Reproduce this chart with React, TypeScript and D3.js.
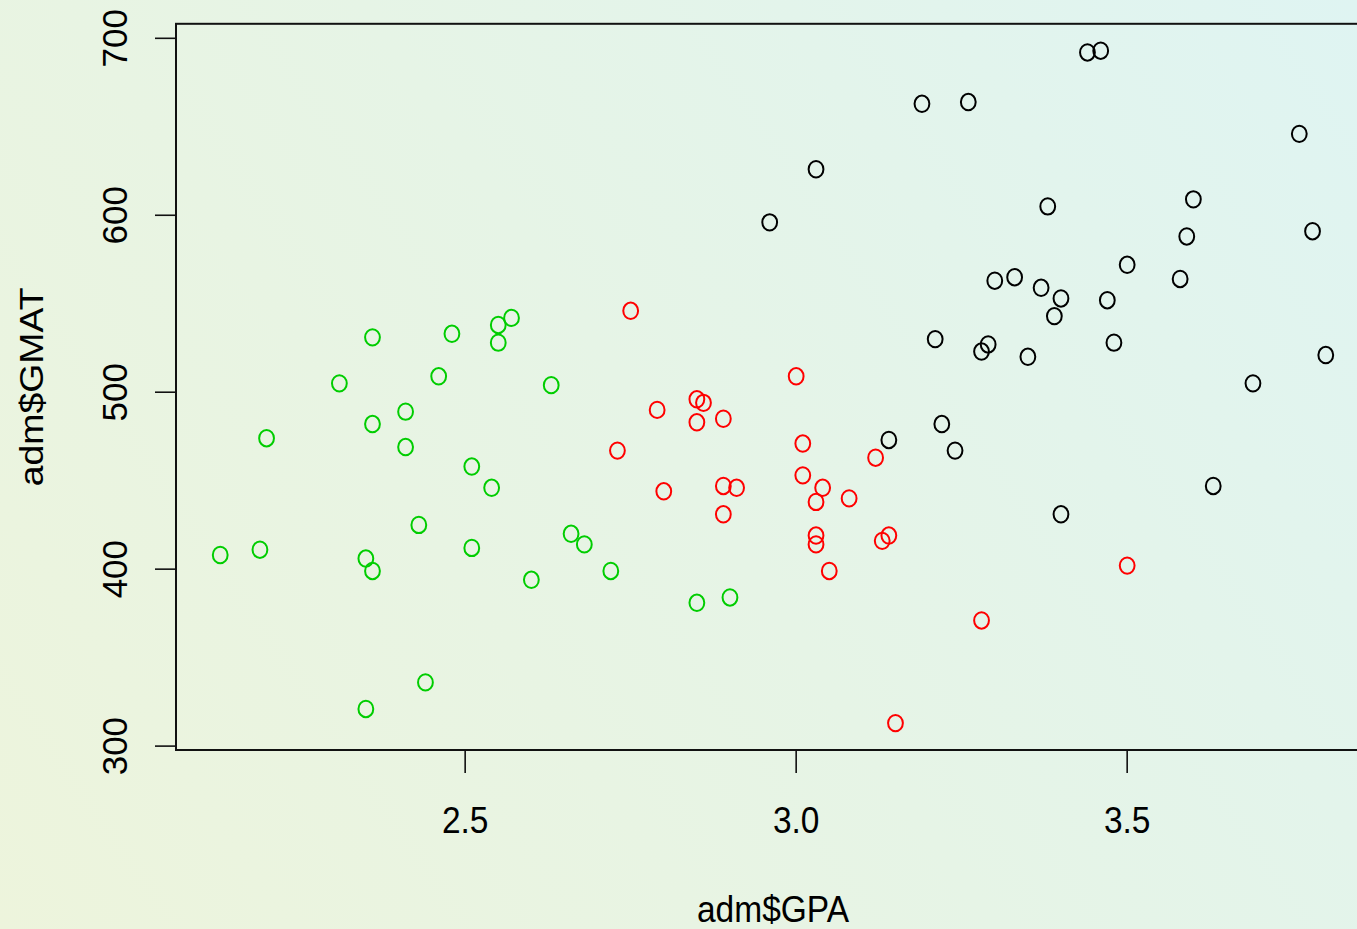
import React from "react";
import * as d3 from "d3";

// ---- data ----
const greenGPA = [2.13, 2.19, 2.2, 2.31, 2.36, 2.36, 2.35, 2.36, 2.35, 2.41, 2.41, 2.43, 2.44, 2.46, 2.48, 2.51, 2.51, 2.54, 2.55, 2.55, 2.57, 2.6, 2.63, 2.66, 2.68, 2.72, 2.85, 2.9];
const greenGMAT = [408, 411, 474, 505, 531, 482, 406, 399, 321, 489, 469, 425, 336, 509, 533, 458, 412, 446, 538, 528, 542, 394, 504, 420, 414, 399, 381, 384];

const redGPA = [2.75, 3.0, 2.79, 2.85, 2.86, 2.85, 2.89, 2.73, 3.01, 3.12, 2.8, 2.89, 2.91, 3.01, 3.04, 3.03, 3.08, 2.89, 3.03, 3.03, 3.14, 3.13, 3.05, 3.5, 3.28, 3.15];
const redGMAT = [546, 509, 490, 496, 494, 483, 485, 467, 471, 463, 444, 447, 446, 453, 446, 438, 440, 431, 419, 414, 419, 416, 399, 402, 371, 313];

const blackGPA = [2.96, 3.03, 3.19, 3.26, 3.44, 3.46, 3.76, 3.38, 3.6, 3.59, 3.78, 3.5, 3.3, 3.33, 3.37, 3.4, 3.39, 3.47, 3.58, 3.21, 3.28, 3.29, 3.35, 3.48, 3.8, 3.69, 3.14, 3.22, 3.24, 3.63, 3.4];
const blackGMAT = [596, 626, 663, 664, 692, 693, 646, 605, 609, 588, 591, 572, 563, 565, 559, 553, 543, 552, 564, 530, 523, 527, 520, 528, 521, 505, 473, 482, 467, 447, 431];

const groupColors = ["#000000", "#FF0000", "#00CD00"];
const xTicks = [2.5, 3.0, 3.5];
const yTicks = [300, 400, 500, 600, 700];
const xTitle = "adm$GPA";
const yTitle = "adm$GMAT";

const W = 1357;
const H = 929;
const FONT = "'Liberation Sans', Arial, Helvetica, sans-serif";

type Pt = { x: number; y: number; g: number };

export default function App() {
  const groups: [number[], number[]][] = [
    [blackGPA, blackGMAT],
    [redGPA, redGMAT],
    [greenGPA, greenGMAT],
  ];
  const pts: Pt[] = [];
  groups.forEach(([xs, ys], g) => xs.forEach((x, i) => pts.push({ x, y: ys[i], g })));

  const xExt = d3.extent(pts, (d) => d.x) as [number, number];
  const yExt = d3.extent(pts, (d) => d.y) as [number, number];
  const xPad = (xExt[1] - xExt[0]) * 0.04;
  const yPad = (yExt[1] - yExt[0]) * 0.04;

  const left = 176, right = 1370, top = 23.8, bottom = 750;
  const x = d3.scaleLinear().domain([xExt[0] - xPad, xExt[1] + xPad]).range([left, right]);
  const y = d3.scaleLinear().domain([yExt[0] - yPad, yExt[1] + yPad]).range([bottom, top]);

  return (
    <div style={{ position: "absolute", left: 0, top: 0, width: W, height: H, overflow: "hidden" }}>
      <svg width={W} height={H} style={{ display: "block" }}>
        <defs>
          <linearGradient id="bg" gradientUnits="userSpaceOnUse" x1={0} y1={H} x2={W} y2={0}>
            <stop offset="0" stopColor="#edf4dc" />
            <stop offset="0.5" stopColor="#e6f4e6" />
            <stop offset="1" stopColor="#dff4f2" />
          </linearGradient>
        </defs>
        <rect x={0} y={0} width={W} height={H} fill="url(#bg)" />

        {/* points */}
        {pts.map((p, i) => (
          <ellipse
            key={i}
            cx={x(p.x)}
            cy={y(p.y)}
            rx={7.4}
            ry={8.2}
            fill="none"
            stroke={groupColors[p.g]}
            strokeWidth={2}
          />
        ))}

        {/* box */}
        <rect x={left} y={top} width={right - left} height={bottom - top} fill="none" stroke="#111" strokeWidth={2} />

        {/* x axis ticks */}
        {xTicks.map((t) => (
          <g key={"x" + t}>
            <line x1={x(t)} x2={x(t)} y1={bottom} y2={bottom + 23} stroke="#111" strokeWidth={1.6} />
            <text
              transform={`translate(${x(t)},833) scale(1,1.1)`}
              textAnchor="middle"
              fontFamily={FONT}
              fontSize={33.5}
              fill="#000"
            >
              {d3.format(".1f")(t)}
            </text>
          </g>
        ))}

        {/* y axis ticks */}
        {yTicks.map((t) => (
          <g key={"y" + t}>
            <line x1={left - 21} x2={left} y1={y(t)} y2={y(t)} stroke="#111" strokeWidth={1.6} />
            <text
              transform={`translate(127,${y(t)}) rotate(-90)`}
              textAnchor="middle"
              fontFamily={FONT}
              fontSize={35}
              fill="#000"
            >
              {t}
            </text>
          </g>
        ))}

        {/* titles */}
        <text
          transform={`translate(${(left + right) / 2},922) scale(1,1.1)`}
          textAnchor="middle"
          fontFamily={FONT}
          fontSize={33.5}
          fill="#000"
        >
          {xTitle}
        </text>
        <text
          transform={`translate(43,${(top + bottom) / 2}) rotate(-90) scale(1.1,1)`}
          textAnchor="middle"
          fontFamily={FONT}
          fontSize={34}
          fill="#000"
        >
          {yTitle}
        </text>
      </svg>
    </div>
  );
}
